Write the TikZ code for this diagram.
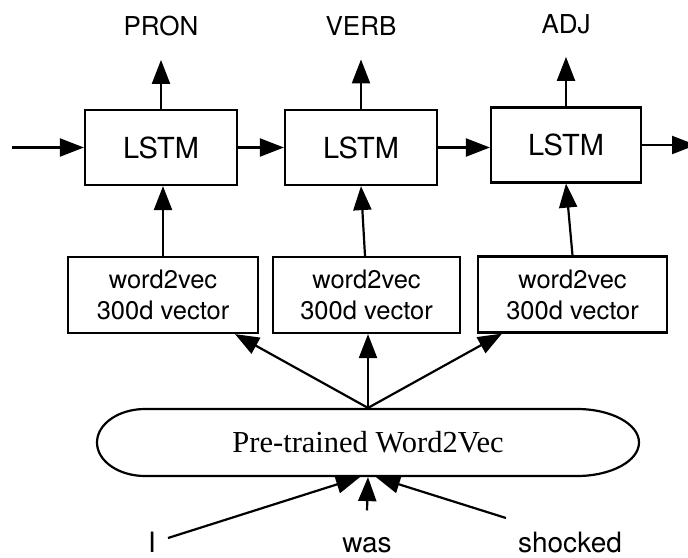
\documentclass[tikz,border=0pt]{standalone}
\usepackage{fontspec}
\setmainfont{Liberation Serif}
\setsansfont{TeX Gyre Heros}
\usetikzlibrary{arrows.meta,calc}
\begin{document}
\begin{tikzpicture}[x=1pt,y=-1pt,
  line width=2.2pt,
  arr/.style={-{Triangle[length=24pt,width=18pt]}},
  lstm/.style={draw,minimum width=152pt,minimum height=75pt,inner sep=0pt,font=\sffamily\fontsize{29}{34}\selectfont},
  w2v/.style={draw,minimum height=76pt,inner sep=0pt,align=center,font=\sffamily\fontsize{25.5}{31}\selectfont},
  lab/.style={font=\sffamily\fontsize{26}{30}\selectfont,anchor=base},
  word/.style={font=\sffamily\fontsize{28}{32}\selectfont,anchor=base}]
\useasboundingbox (0,0) rectangle (688,557);
% LSTM row
\node[lstm] (l1) at (161,147.5) {LSTM};
\node[lstm] (l2) at (361,147.5) {LSTM};
\node[lstm,minimum width=150pt] (l3) at (566,145) {LSTM};
% labels
\node[lab] (t1) at (161,35) {PRON};
\node[lab] (t2) at (361,35) {VERB};
\node[lab] (t3) at (566,33) {ADJ};
\draw[arr,shorten >=20pt] (l1.north) -- (l1.north |- t1.south);
\draw[arr,shorten >=20pt] (l2.north) -- (l2.north |- t2.south);
\draw[arr,shorten >=19pt] (l3.north) -- (l3.north |- t3.south);
% recurrent arrows
\coordinate (in) at (12,147.5);
\coordinate (out) at (696,145);
\draw[arr] (in) -- (l1.west);
\draw[arr] (l1.east) -- (l2.west);
\draw[arr] (l2.east) -- (l2.east -| l3.west);
\draw[arr] (l3.east) -- (out);
% word2vec boxes
\node[w2v,minimum width=190pt] (w1) at (163,295) {word2vec\\300d vector};
\node[w2v,minimum width=187pt] (w2) at (366.5,295) {word2vec\\300d vector};
\node[w2v,minimum width=189pt] (w3) at (572.5,294.5) {word2vec\\300d vector};
\draw[arr] (w1.north) -- (w1.north |- l1.south);
\draw[arr] ($(w2.north)+(-1.5,0)$) -- (l2.south);
\draw[arr] (w3.north) -- (l3.south);
% pre-trained word2vec
\node[minimum width=542pt,minimum height=67pt,inner sep=0pt,font=\fontsize{30.5}{34}\selectfont] (ell) at (368,442.5) {Pre-trained Word2Vec};
\draw (145,409) -- (577,409)
  arc[start angle=90,end angle=-90,x radius=62pt,y radius=33.5pt]
  -- (145,476)
  arc[start angle=270,end angle=90,x radius=48pt,y radius=33.5pt] -- cycle;
\draw[arr] (ell.north) -- ($(w1.south)+(72,0)$);
\draw[arr] (ell.north) -- (ell.north |- w2.south);
\draw[arr] (ell.north) -- ($(w3.south)+(-70.5,0)$);
% input words
\node[word] (wI) at (152,552) {I};
\node[word] (was) at (367,552) {was};
\node[word] (shk) at (570,552) {shocked};
\draw[arr] ($(wI.base)+(16,-14)$) -- ($(ell.south)+(-8,0)$);
\draw[arr] ($(was.north)+(0,-22)$) -- (ell.south);
\draw[arr] ($(shk.base)+(-64,-34)$) -- ($(ell.south)+(8,0)$);
\end{tikzpicture}
\end{document}
